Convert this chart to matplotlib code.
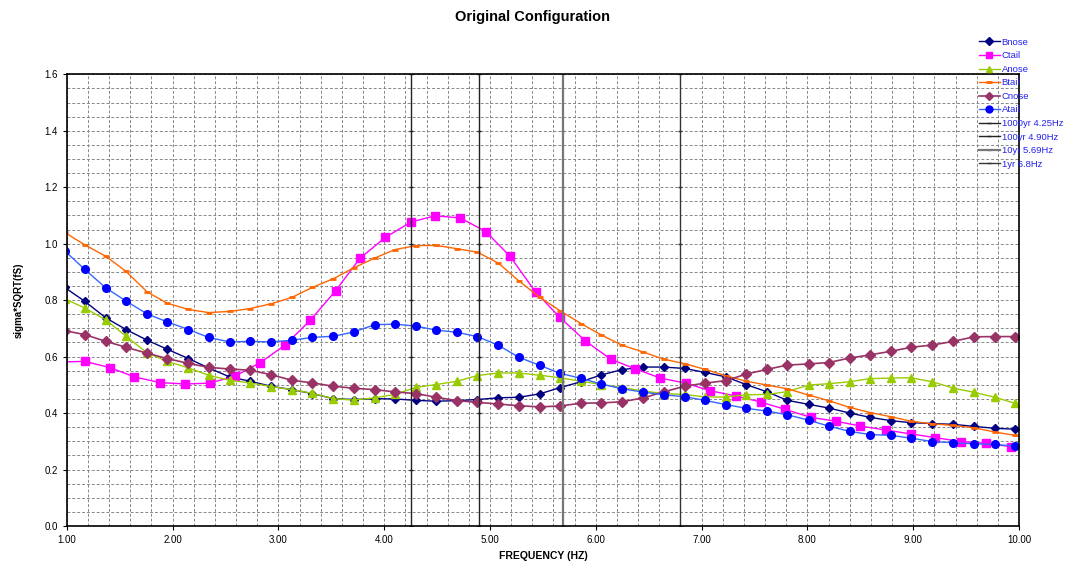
import numpy as np
import matplotlib
matplotlib.use('Agg')
import matplotlib.pyplot as plt

plt.rcParams['font.family'] = ['Liberation Sans', 'DejaVu Sans']

# frequency grid used by most series (Hz)
freq = [0.98, 1.17, 1.37, 1.56, 1.76, 1.95, 2.15, 2.34, 2.54, 2.73, 2.93,
        3.13, 3.32, 3.52, 3.71, 3.91, 4.10, 4.30, 4.49, 4.69, 4.88, 5.08,
        5.27, 5.47, 5.66, 5.86, 6.05, 6.25, 6.45, 6.64, 6.84, 7.03, 7.23,
        7.42, 7.62, 7.81, 8.01, 8.20, 8.40, 8.59, 8.79, 8.98, 9.18, 9.38,
        9.57, 9.77, 9.96, 10.16]

bnose = [0.845, 0.796, 0.737, 0.696, 0.658, 0.626, 0.593, 0.560, 0.528, 0.513, 0.495,
         0.483, 0.469, 0.451, 0.448, 0.451, 0.450, 0.445, 0.442, 0.444, 0.448, 0.454,
         0.456, 0.468, 0.490, 0.511, 0.535, 0.554, 0.563, 0.563, 0.558, 0.544, 0.528,
         0.501, 0.475, 0.445, 0.431, 0.418, 0.400, 0.385, 0.373, 0.366, 0.363, 0.360,
         0.353, 0.346, 0.343, 0.342]

anose = [0.805, 0.772, 0.730, 0.672, 0.613, 0.583, 0.560, 0.534, 0.516, 0.507, 0.494,
         0.483, 0.470, 0.451, 0.446, 0.454, 0.466, 0.491, 0.501, 0.513, 0.533, 0.542,
         0.542, 0.534, 0.525, 0.513, 0.501, 0.490, 0.478, 0.469, 0.466, 0.457, 0.457,
         0.465, 0.466, 0.476, 0.499, 0.504, 0.511, 0.522, 0.524, 0.525, 0.511, 0.488,
         0.474, 0.456, 0.435, 0.420]

btail = [1.040, 0.996, 0.955, 0.902, 0.829, 0.789, 0.767, 0.756, 0.760, 0.770, 0.787,
         0.810, 0.845, 0.876, 0.914, 0.949, 0.979, 0.993, 0.994, 0.982, 0.970, 0.931,
         0.869, 0.810, 0.763, 0.717, 0.677, 0.640, 0.616, 0.591, 0.575, 0.555, 0.532,
         0.513, 0.499, 0.486, 0.464, 0.444, 0.420, 0.402, 0.387, 0.371, 0.362, 0.356,
         0.348, 0.333, 0.321, 0.310]

cnose = [0.692, 0.678, 0.654, 0.633, 0.612, 0.593, 0.576, 0.562, 0.556, 0.552, 0.536,
         0.516, 0.507, 0.495, 0.488, 0.483, 0.475, 0.469, 0.456, 0.444, 0.438, 0.432,
         0.426, 0.422, 0.425, 0.435, 0.436, 0.440, 0.454, 0.475, 0.495, 0.506, 0.515,
         0.538, 0.555, 0.570, 0.574, 0.579, 0.595, 0.606, 0.619, 0.633, 0.641, 0.654,
         0.670, 0.671, 0.671, 0.665]

atail = [0.975, 0.909, 0.843, 0.797, 0.751, 0.723, 0.696, 0.668, 0.652, 0.654, 0.652,
         0.658, 0.668, 0.672, 0.687, 0.713, 0.715, 0.708, 0.694, 0.686, 0.671, 0.640,
         0.598, 0.569, 0.541, 0.523, 0.503, 0.486, 0.474, 0.465, 0.458, 0.445, 0.430,
         0.417, 0.407, 0.394, 0.375, 0.354, 0.335, 0.324, 0.321, 0.311, 0.299, 0.295,
         0.291, 0.289, 0.283, 0.278]

# Ctail was sampled on its own frequency grid
freq_ctail = [0.93, 1.17, 1.41, 1.64, 1.88, 2.12, 2.35, 2.59, 2.83, 3.06,
              3.30, 3.54, 3.77, 4.01, 4.25, 4.48, 4.72, 4.96, 5.19, 5.43,
              5.66, 5.90, 6.14, 6.37, 6.61, 6.85, 7.08, 7.32, 7.56, 7.79,
              8.03, 8.27, 8.50, 8.74, 8.98, 9.21, 9.45, 9.69, 9.92, 10.16]
ctail = [0.581, 0.583, 0.561, 0.528, 0.508, 0.503, 0.506, 0.531, 0.579, 0.640,
         0.728, 0.833, 0.948, 1.022, 1.076, 1.099, 1.091, 1.043, 0.955, 0.829,
         0.739, 0.656, 0.591, 0.557, 0.524, 0.506, 0.479, 0.461, 0.439, 0.413,
         0.385, 0.371, 0.354, 0.340, 0.326, 0.313, 0.299, 0.293, 0.281, 0.278]

# return-period frequency markers
event_labels = ['1000yr 4.25Hz', '100yr 4.90Hz', '10yr 5.69Hz', '1yr 6.8Hz']
event_freqs = [4.25, 4.90, 5.69, 6.8]
event_y = [0.0, 0.2, 0.4, 0.6, 0.8, 1.0, 1.2, 1.4, 1.6]

fig = plt.figure(figsize=(10.68, 5.67), dpi=100)
ax = fig.add_axes([0.0625, 0.0723, 0.8917, 0.7967])

ms = 5.5
ax.plot(freq, bnose, color='#000080', lw=1, marker='D', ms=4.5, label='Bnose')
ax.plot(freq_ctail, ctail, color='#FF00FF', lw=1, marker='s', ms=ms, label='Ctail')
ax.plot(freq, anose, color='#99CC00', lw=1, marker='^', ms=ms, label='Anose')
ax.plot(freq, btail, color='#FF6600', lw=1, marker='_', ms=5, mew=2, label='Btail')
ax.plot(freq, cnose, color='#993366', lw=1.2, marker='D', ms=5, label='Cnose')
ax.plot(freq, atail, color='#3366FF', lw=1, marker='o', ms=ms,
        mfc='#0000FF', mec='#0000FF', label='Atail')

event_colors = ['#222222', '#222222', '#777777', '#333333']
event_widths = [1, 1, 1.6, 1]
for f, lab, c, w in zip(event_freqs, event_labels, event_colors, event_widths):
    ax.plot([f] * len(event_y), event_y, color=c, lw=w, marker='_', ms=3,
            label=lab)

ax.set_xlim(1, 10)
ax.set_ylim(0, 1.6)
ax.set_xticks(np.arange(1, 10.01, 1))
ax.set_xticklabels(['%.2f' % v for v in np.arange(1, 10.01, 1)])
ax.set_yticks(np.arange(0, 1.61, 0.2))
ax.set_yticklabels(['%.1f' % v for v in np.arange(0, 1.61, 0.2)])
ax.set_xticks(np.arange(1, 10.01, 0.2), minor=True)
ax.set_yticks(np.arange(0, 1.61, 0.05), minor=True)
ax.tick_params(axis='both', which='major', labelsize=7, length=3, width=0.8)
ax.tick_params(axis='both', which='minor', length=0)
ax.grid(True, which='both', color='#888888', linestyle=(0, (3, 2)), lw=0.7)
ax.set_axisbelow(True)
for s in ax.spines.values():
    s.set_linewidth(1.2)

ax.set_xlabel('FREQUENCY (HZ)', fontsize=7.5, fontweight='bold', labelpad=4)
ax.set_ylabel('sigma*SQRT(fS)', fontsize=7, fontweight='bold', labelpad=15)
fig.suptitle('Original Configuration', fontsize=10.5, fontweight='bold',
             x=0.499, y=0.982)

leg = fig.legend(loc='upper left', bbox_to_anchor=(0.913, 0.94), frameon=False,
                 fontsize=6.8, handlelength=2.2, handletextpad=0.2,
                 labelspacing=0.48, borderaxespad=0, markerscale=0.9)
for t in leg.get_texts():
    t.set_color('#2222EE')

fig.savefig('out.png', dpi=100)
